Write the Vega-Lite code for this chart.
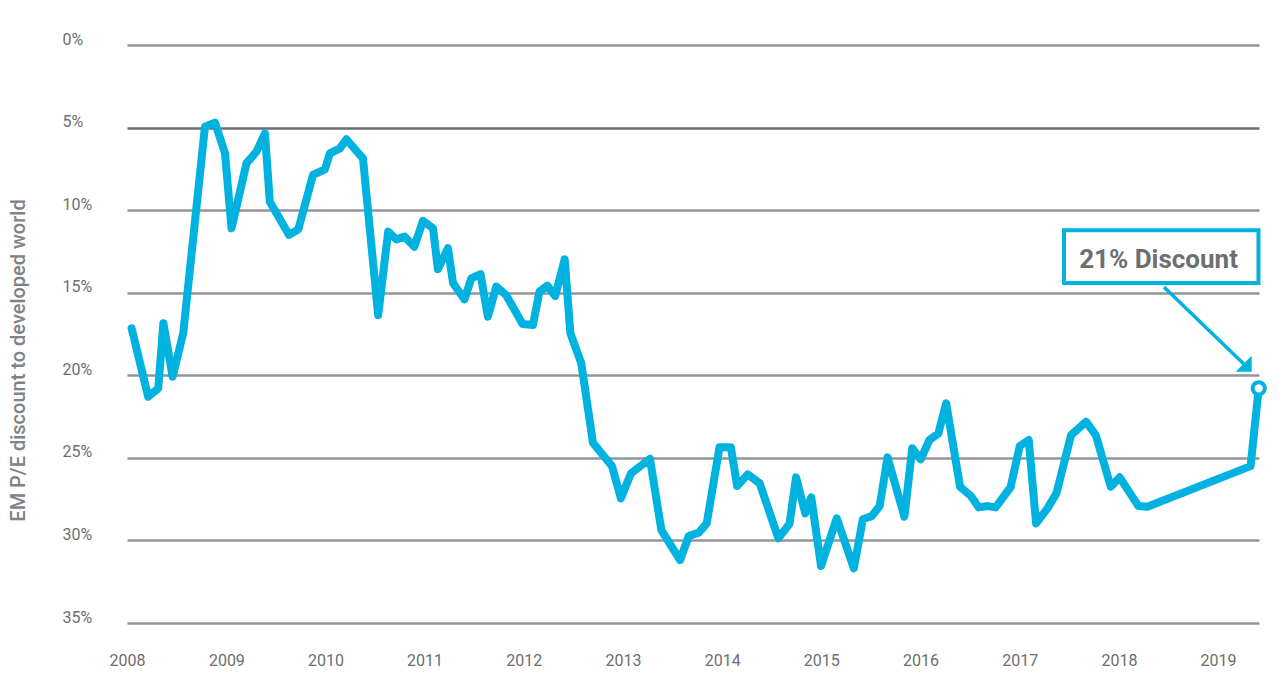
{
  "$schema": "https://vega.github.io/schema/vega-lite/v6.json",
  "width": 1132,
  "height": 578,
  "autosize": {"type": "none"},
  "padding": {"left": 127, "top": 45, "right": 20, "bottom": 53},
  "background": "white",
  "config": {
    "view": {"stroke": null},
    "font": "Roboto"
  },
  "datasets": {
    "main": [
      {"date": "2008-01-18", "value": 17.16},
      {"date": "2008-03-19", "value": 21.3},
      {"date": "2008-04-25", "value": 20.8},
      {"date": "2008-05-14", "value": 16.85},
      {"date": "2008-06-17", "value": 20.08},
      {"date": "2008-07-26", "value": 17.46},
      {"date": "2008-10-14", "value": 4.95},
      {"date": "2008-11-20", "value": 4.7},
      {"date": "2008-12-27", "value": 6.56},
      {"date": "2009-01-20", "value": 11.1},
      {"date": "2009-03-16", "value": 7.16},
      {"date": "2009-04-22", "value": 6.46},
      {"date": "2009-05-23", "value": 5.35},
      {"date": "2009-06-10", "value": 9.49},
      {"date": "2009-08-20", "value": 11.5},
      {"date": "2009-09-23", "value": 11.16},
      {"date": "2009-11-16", "value": 7.87},
      {"date": "2009-12-30", "value": 7.53},
      {"date": "2010-01-17", "value": 6.56},
      {"date": "2010-02-23", "value": 6.26},
      {"date": "2010-03-19", "value": 5.71},
      {"date": "2010-05-19", "value": 6.86},
      {"date": "2010-07-14", "value": 16.35},
      {"date": "2010-08-20", "value": 11.3},
      {"date": "2010-09-19", "value": 11.77},
      {"date": "2010-10-19", "value": 11.6},
      {"date": "2010-11-24", "value": 12.22},
      {"date": "2010-12-26", "value": 10.65},
      {"date": "2011-02-01", "value": 11.1},
      {"date": "2011-02-19", "value": 13.58},
      {"date": "2011-03-28", "value": 12.3},
      {"date": "2011-04-16", "value": 14.43},
      {"date": "2011-05-28", "value": 15.4},
      {"date": "2011-06-22", "value": 14.13},
      {"date": "2011-07-26", "value": 13.87},
      {"date": "2011-08-22", "value": 16.45},
      {"date": "2011-09-22", "value": 14.63},
      {"date": "2011-10-28", "value": 15.14},
      {"date": "2011-12-28", "value": 16.9},
      {"date": "2012-02-04", "value": 16.96},
      {"date": "2012-02-28", "value": 14.94},
      {"date": "2012-03-28", "value": 14.57},
      {"date": "2012-04-26", "value": 15.2},
      {"date": "2012-05-31", "value": 12.98},
      {"date": "2012-06-21", "value": 17.46},
      {"date": "2012-07-31", "value": 19.27},
      {"date": "2012-09-12", "value": 24.08},
      {"date": "2012-10-12", "value": 24.69},
      {"date": "2012-11-21", "value": 25.49},
      {"date": "2012-12-24", "value": 27.45},
      {"date": "2013-01-30", "value": 25.94},
      {"date": "2013-04-10", "value": 25.06},
      {"date": "2013-05-22", "value": 29.37},
      {"date": "2013-07-30", "value": 31.19},
      {"date": "2013-08-31", "value": 29.73},
      {"date": "2013-10-07", "value": 29.53},
      {"date": "2013-11-05", "value": 28.97},
      {"date": "2013-12-22", "value": 24.36},
      {"date": "2014-02-02", "value": 24.36},
      {"date": "2014-02-25", "value": 26.7},
      {"date": "2014-04-05", "value": 26.0},
      {"date": "2014-05-19", "value": 26.54},
      {"date": "2014-07-27", "value": 29.87},
      {"date": "2014-09-06", "value": 29.0},
      {"date": "2014-09-30", "value": 26.18},
      {"date": "2014-11-03", "value": 28.36},
      {"date": "2014-11-25", "value": 27.39},
      {"date": "2014-12-31", "value": 31.55},
      {"date": "2015-02-27", "value": 28.66},
      {"date": "2015-05-01", "value": 31.69},
      {"date": "2015-06-03", "value": 28.72},
      {"date": "2015-07-06", "value": 28.52},
      {"date": "2015-08-04", "value": 27.92},
      {"date": "2015-09-02", "value": 24.97},
      {"date": "2015-11-03", "value": 28.56},
      {"date": "2015-12-02", "value": 24.42},
      {"date": "2016-01-02", "value": 25.09},
      {"date": "2016-02-03", "value": 23.92},
      {"date": "2016-03-07", "value": 23.52},
      {"date": "2016-04-05", "value": 21.7},
      {"date": "2016-05-26", "value": 26.75},
      {"date": "2016-07-05", "value": 27.31},
      {"date": "2016-08-03", "value": 28.0},
      {"date": "2016-09-05", "value": 27.92},
      {"date": "2016-10-04", "value": 28.0},
      {"date": "2016-11-28", "value": 26.78},
      {"date": "2017-01-01", "value": 24.28},
      {"date": "2017-02-03", "value": 23.92},
      {"date": "2017-03-02", "value": 28.97},
      {"date": "2017-04-13", "value": 28.06},
      {"date": "2017-05-16", "value": 27.15},
      {"date": "2017-07-09", "value": 23.62},
      {"date": "2017-09-02", "value": 22.81},
      {"date": "2017-10-08", "value": 23.62},
      {"date": "2017-12-02", "value": 26.75},
      {"date": "2018-01-04", "value": 26.18},
      {"date": "2018-03-14", "value": 27.92},
      {"date": "2018-04-16", "value": 27.96},
      {"date": "2019-05-01", "value": 25.5},
      {"date": "2019-05-31", "value": 20.79}
    ],
    "endpoint": [{"date": "2019-05-31", "value": 20.79}],
    "box": [{"date": "2017-06-13", "date2": "2019-05-30", "value": 11.22, "value2": 14.41}],
    "label": [{"date": "2018-05-27", "value": 13.0, "text": "21% Discount"}],
    "arrow": [
      {"date": "2018-06-16", "value": 14.65},
      {"date": "2019-04-10", "value": 19.38}
    ],
    "arrowhead": [{"date": "2019-05-05", "value": 19.78}]
  },
  "encoding": {
    "x": {
      "field": "date",
      "type": "temporal",
      "scale": {
        "type": "utc",
        "domain": [
          {"year": 2008, "month": 1, "date": 1, "utc": true},
          {"year": 2019, "month": 6, "date": 1, "utc": true}
        ],
        "nice": false
      },
      "axis": {
        "title": null,
        "format": "%Y",
        "tickCount": "year",
        "domain": false,
        "ticks": false,
        "grid": false,
        "labelFont": "Roboto",
        "labelFontSize": 16,
        "labelColor": "#6d6e71",
        "labelBaseline": "top",
        "labelPadding": 29,
        "labelFlush": false,
        "labelOverlap": false
      }
    },
    "y": {
      "field": "value",
      "type": "quantitative",
      "scale": {"domain": [0, 35], "reverse": true, "nice": false, "zero": false},
      "axis": {
        "title": "EM P/E discount to developed world",
        "titleFont": "Roboto",
        "titleFontSize": 20,
        "titleFontWeight": 500,
        "titleColor": "#808285",
        "titleAngle": -90,
        "titleAlign": "center",
        "titleBaseline": "alphabetic",
        "titleX": -103,
        "titleY": 315,
        "values": [0, 5, 10, 15, 20, 25, 30, 35],
        "labelExpr": "datum.value + '%'",
        "domain": false,
        "ticks": false,
        "tickSize": 0,
        "grid": true,
        "gridColor": {"condition": {"test": "datum.value === 5", "value": "#6d6e71"}, "value": "#939598"},
        "gridWidth": 2.6,
        "labelFont": "Roboto",
        "labelFontSize": 16,
        "labelColor": "#6d6e71",
        "labelAlign": "left",
        "labelBaseline": "alphabetic",
        "labelOffset": -1,
        "labelPadding": 65,
        "labelFlush": false,
        "labelOverlap": false
      }
    }
  },
  "layer": [
    {
      "data": {"name": "main"},
      "mark": {"type": "line", "color": "#00b2e0", "strokeWidth": 8, "strokeJoin": "round", "strokeCap": "round"}
    },
    {
      "data": {"name": "endpoint"},
      "mark": {"type": "point", "shape": "circle", "filled": true, "fill": "white", "stroke": "#00b2e0", "strokeWidth": 4, "size": 150, "opacity": 1}
    },
    {
      "data": {"name": "box"},
      "mark": {"type": "rect", "fill": "white", "stroke": "#00b2e0", "strokeWidth": 4},
      "encoding": {
        "x2": {"field": "date2"},
        "y2": {"field": "value2"}
      }
    },
    {
      "data": {"name": "label"},
      "mark": {"type": "text", "font": "Roboto", "fontSize": 26, "fontWeight": "bold", "color": "#6d6e71", "align": "center", "baseline": "middle"},
      "encoding": {"text": {"field": "text"}}
    },
    {
      "data": {"name": "arrow"},
      "mark": {"type": "line", "color": "#00b2e0", "strokeWidth": 3.5}
    },
    {
      "data": {"name": "arrowhead"},
      "mark": {"type": "point", "shape": "M0,0 L-1,0 L0,-1 Z", "filled": true, "color": "#00b2e0", "size": 1024, "opacity": 1, "strokeWidth": 0}
    }
  ]
}
